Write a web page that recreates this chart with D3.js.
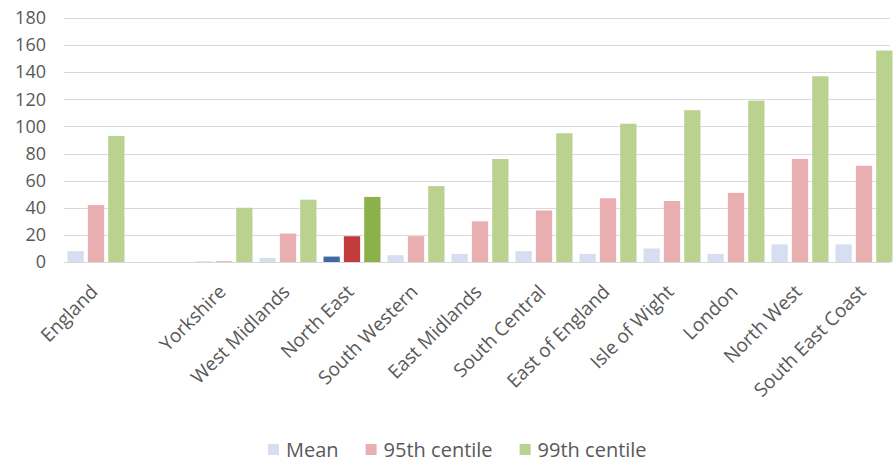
<!DOCTYPE html>
<html>
  <head>
    <meta charset="UTF-8">
    <title>Centiles by region</title>
    <style>
      body {margin: 0; background-color: #ffffff;}
      #chart svg {display: block;}
      .tick text {font-family: "Open Sans", sans-serif; fill: #595959;}
      .label {font-family: "Open Sans", sans-serif; fill: #595959; font-size: 19px;}
    </style>
  </head>
  <body>
    <div id="chart"></div>
    <script src="https://d3js.org/d3.v7.min.js"></script>
    <script>
      const regions = ["England", "", "Yorkshire", "West Midlands", "North East", "South Western",
        "East Midlands", "South Central", "East of England", "Isle of Wight", "London",
        "North West", "South East Coast"];
      const seriesNames = ["Mean", "95th centile", "99th centile"];
      const meanValues = [8, null, 0.6, 3, 4, 5, 6, 8, 6, 10, 6, 13, 13];
      const p95Values = [42, null, 0.6, 21, 19, 19, 30, 38, 47, 45, 51, 76, 71];
      const p99Values = [93, null, 40, 46, 48, 56, 76, 95, 102, 112, 119, 137, 156];
      const yTicks = [0, 20, 40, 60, 80, 100, 120, 140, 160, 180];
      const highlighted = "North East";

      const colors = ["#d5dff0", "#e8aeb0", "#bad28f"];
      const highlightColors = ["#3e6ba5", "#c13a3c", "#8cb04a"];

      const width = 893, height = 462;
      const plotLeft = 64, plotRight = 896, plotTop = 18, plotBottom = 262;

      const svg = d3.select("#chart").append("svg")
        .attr("width", width).attr("height", height);

      const x0 = d3.scaleBand().domain(regions).range([plotLeft, plotRight])
        .paddingInner(0.11).paddingOuter(0.055);
      const x1 = d3.scaleBand().domain(seriesNames).range([0, x0.bandwidth()]).paddingInner(0.2);
      const y = d3.scaleLinear().domain([0, 180]).range([plotBottom, plotTop]);

      // gridlines
      svg.append("g").selectAll("line").data(yTicks).join("line")
        .attr("x1", plotLeft).attr("x2", 890)
        .attr("y1", d => Math.round(y(d)) + 0.5).attr("y2", d => Math.round(y(d)) + 0.5)
        .attr("stroke", "#d9d9d9").attr("stroke-width", 1);

      // y axis labels
      const yAxis = d3.axisLeft(y).tickValues(yTicks).tickSize(0).tickPadding(0);
      svg.append("g").attr("transform", `translate(46,0)`).call(yAxis)
        .call(g => g.select(".domain").remove())
        .selectAll("text").attr("font-size", 18);

      const rows = regions.map((r, i) => ({
        region: r,
        values: [meanValues[i], p95Values[i], p99Values[i]]
      }));

      const groups = svg.append("g").selectAll("g").data(rows).join("g")
        .attr("transform", d => `translate(${x0(d.region)},0)`);

      groups.selectAll("rect")
        .data(d => d.values.map((v, k) => ({region: d.region, series: seriesNames[k], k, v})).filter(e => e.v != null))
        .join("rect")
        .attr("x", d => x1(d.series))
        .attr("width", x1.bandwidth())
        .attr("y", d => y(d.v))
        .attr("height", d => y(0) - y(d.v))
        .attr("fill", d => d.region === highlighted ? highlightColors[d.k] : colors[d.k]);

      // category labels
      svg.append("g").selectAll("text").data(regions.filter(r => r !== "")).join("text")
        .attr("class", "label")
        .attr("text-anchor", "end")
        .attr("transform", d => `translate(${x0(d) + x0.bandwidth() / 2 + 3},293) rotate(-45)`)
        .text(d => d);

      // legend
      const legend = svg.append("g").attr("transform", "translate(268,450)");
      let lx = 0;
      seriesNames.forEach((name, k) => {
        legend.append("rect").attr("x", lx).attr("y", -6).attr("width", 11).attr("height", 11)
          .attr("fill", colors[k]);
        const t = legend.append("text").attr("class", "label").attr("x", lx + 18).attr("y", 0)
          .attr("dy", "0.35em").style("font-size", "20px").text(name);
        lx += 18 + t.node().getComputedTextLength() + 27;
      });
    </script>
  </body>
</html>
